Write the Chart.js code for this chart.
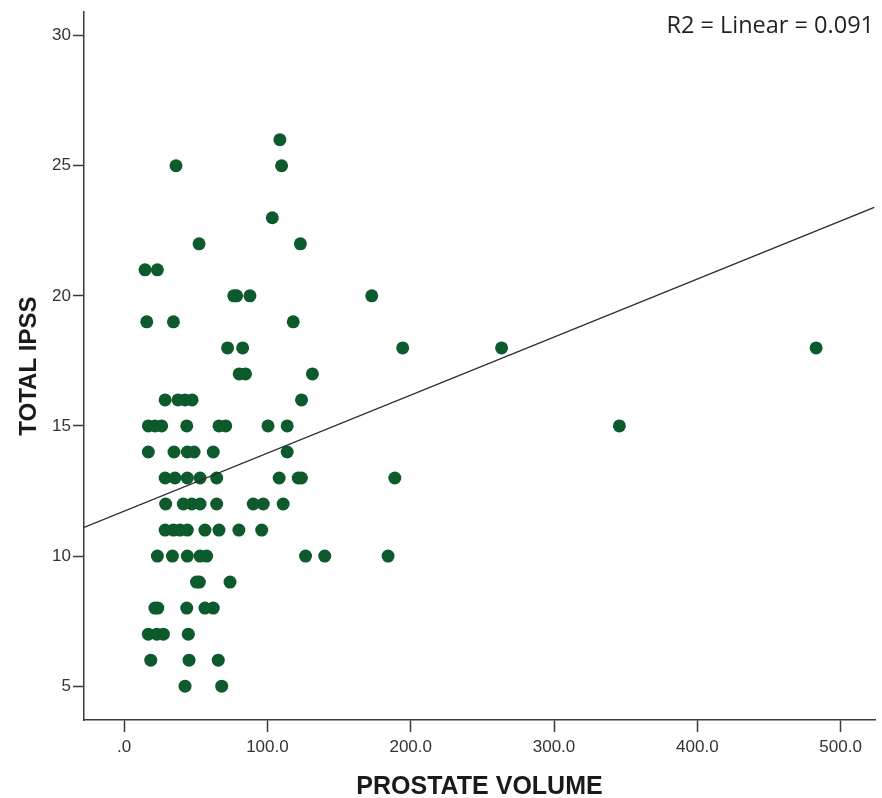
<!DOCTYPE html>
<html>
<head>
<meta charset="utf-8">
<script src="https://cdn.jsdelivr.net/npm/chart.js@4/dist/chart.umd.min.js"></script>
<style>
  html, body { margin: 0; padding: 0; background: #ffffff; }
  #wrap { width: 882px; height: 798px; }
</style>
</head>
<body>
<div id="wrap"><canvas id="c" width="882" height="798"></canvas></div>
<script>
// Prostate volume (x) and total IPSS (y) for each patient
const volume = [
  108.7,
  36.2, 109.9,
  103.4,
  52.3, 123,
  14.6, 23.2,
  76.5, 78.5, 87.8, 172.8,
  15.8, 34.4, 118,
  72.2, 82.7, 194.4, 263.4, 482.9,
  80.3, 84.7, 131.4,
  28.6, 37.6, 42.5, 47.4, 123.8,
  16.9, 21.6, 26.2, 43.7, 66.2, 70.9, 100.4, 113.8, 345.6,
  16.9, 34.8, 44.1, 48.8, 62.2, 113.8,
  28.6, 35.5, 44.1, 53, 64.6, 108.2, 121.5, 123.7, 188.9,
  29, 41.3, 47.2, 53, 64.6, 90.1, 97.1, 111,
  28.6, 34.4, 39, 44.1, 56.4, 66.2, 80.1, 96,
  23.2, 33.7, 44.1, 53, 57.6, 126.6, 140, 184.2,
  50.5, 52.5, 73.9,
  21.5, 23.5, 43.7, 56.4, 62.2,
  16.9, 22.8, 27.4, 44.8,
  18.6, 45.3, 65.7,
  42.5, 68.1
];
const ipss = [
  26,
  25, 25,
  23,
  22, 22,
  21, 21,
  20, 20, 20, 20,
  19, 19, 19,
  18, 18, 18, 18, 18,
  17, 17, 17,
  16, 16, 16, 16, 16,
  15, 15, 15, 15, 15, 15, 15, 15, 15,
  14, 14, 14, 14, 14, 14,
  13, 13, 13, 13, 13, 13, 13, 13, 13,
  12, 12, 12, 12, 12, 12, 12, 12,
  11, 11, 11, 11, 11, 11, 11, 11,
  10, 10, 10, 10, 10, 10, 10, 10,
  9, 9, 9,
  8, 8, 8, 8, 8,
  7, 7, 7, 7,
  6, 6, 6,
  5, 5
];

// Fit line end points (as drawn across the plot)
const fitX = [-28, 523.5];
const fitY = [11.1, 23.4];

// Axis ticks and labels
const xTicks = [0, 100, 200, 300, 400, 500];
const xTickLabels = ['.0', '100.0', '200.0', '300.0', '400.0', '500.0'];
const yTicks = [5, 10, 15, 20, 25, 30];
const yTickLabels = ['5', '10', '15', '20', '25', '30'];

const xRange = [-28, 524];
const yRange = [3.7, 30.9];

const xTitle = 'PROSTATE VOLUME';
const yTitle = 'TOTAL IPSS';
const fitNote = 'R2 = Linear = 0.091';

const points = volume.map((v, i) => ({ x: v, y: ipss[i] }));
const fitLine = fitX.map((v, i) => ({ x: v, y: fitY[i] }));

const notePlugin = {
  id: 'fitNote',
  afterDraw(chart) {
    const ctx = chart.ctx;
    ctx.save();
    ctx.font = '23.5px "Open Sans", "Noto Sans", sans-serif';
    ctx.fillStyle = '#231f20';
    ctx.textAlign = 'right';
    ctx.textBaseline = 'alphabetic';
    ctx.fillText(fitNote, 874, 33);
    ctx.restore();
  }
};

const axisColor = '#3a3a3a';
const tickFont = { family: '"Liberation Sans", Arial, sans-serif', size: 17 };
const xTitleFont = { family: '"Liberation Sans", Arial, sans-serif', size: 25, weight: 'bold' };
const yTitleFont = { family: '"Liberation Sans", Arial, sans-serif', size: 24, weight: 'bold' };

new Chart(document.getElementById('c'), {
  type: 'scatter',
  data: {
    datasets: [
      {
        type: 'line',
        data: fitLine,
        borderColor: '#2b2b2b',
        borderWidth: 1.4,
        pointRadius: 0,
        fill: false,
        order: 0
      },
      {
        type: 'scatter',
        data: points,
        backgroundColor: '#0d5a2c',
        borderWidth: 0,
        pointRadius: 6.5,
        pointHoverRadius: 6.5,
        order: 1
      }
    ]
  },
  options: {
    responsive: false,
    animation: false,
    events: [],
    layout: { padding: { top: 10, right: 7, left: 0, bottom: 0 } },
    plugins: {
      legend: { display: false },
      tooltip: { enabled: false }
    },
    scales: {
      x: {
        type: 'linear',
        min: xRange[0],
        max: xRange[1],
        afterBuildTicks: (s) => { s.ticks = xTicks.map(v => ({ value: v })); },
        afterFit: (s) => { s.height = 78; },
        ticks: {
          callback: (v) => xTickLabels[xTicks.indexOf(v)],
          font: tickFont,
          color: '#333333',
          padding: 5,
          maxRotation: 0,
          autoSkip: false
        },
        grid: {
          display: true,
          drawOnChartArea: false,
          drawTicks: true,
          tickLength: 12,
          tickWidth: 1.5,
          tickColor: axisColor
        },
        border: { display: true, color: axisColor, width: 1.5 },
        title: {
          display: true,
          text: xTitle,
          color: '#1a1a1a',
          font: xTitleFont,
          padding: { top: 0, bottom: -4 }
        }
      },
      y: {
        type: 'linear',
        min: yRange[0],
        max: yRange[1],
        afterBuildTicks: (s) => { s.ticks = yTicks.map(v => ({ value: v })); },
        afterFit: (s) => { s.width = 84; },
        ticks: {
          callback: (v) => yTickLabels[yTicks.indexOf(v)],
          font: tickFont,
          color: '#333333',
          padding: 2,
          autoSkip: false
        },
        grid: {
          display: true,
          drawOnChartArea: false,
          drawTicks: true,
          tickLength: 11,
          tickWidth: 1.5,
          tickColor: axisColor
        },
        border: { display: true, color: axisColor, width: 1.5 },
        title: {
          display: true,
          text: yTitle,
          color: '#1a1a1a',
          font: yTitleFont,
          padding: { top: 15, bottom: 0 }
        }
      }
    }
  },
  plugins: [notePlugin]
});
</script>
</body>
</html>
